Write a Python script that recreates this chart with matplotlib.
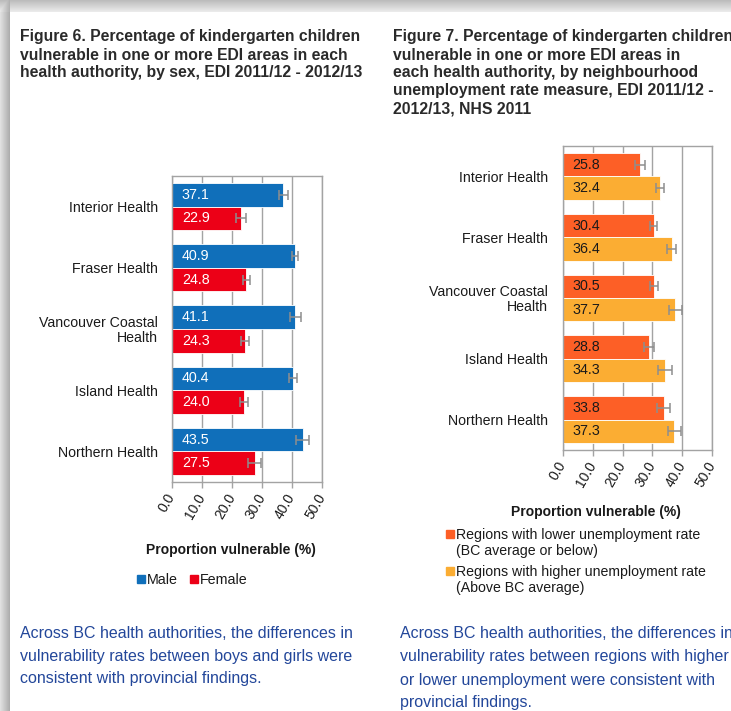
import numpy as np
import matplotlib
matplotlib.use("Agg")
import matplotlib.pyplot as plt
from matplotlib.patches import Rectangle

# ---- data -------------------------------------------------------------
authorities = ["Interior Health", "Fraser Health", "Vancouver Coastal\nHealth",
               "Island Health", "Northern Health"]

male = [37.1, 40.9, 41.1, 40.4, 43.5]
male_err = [1.5, 1.0, 1.8, 1.4, 2.2]
female = [22.9, 24.8, 24.3, 24.0, 27.5]
female_err = [1.6, 1.1, 1.4, 1.3, 2.1]

lower_unemp = [25.8, 30.4, 30.5, 28.8, 33.8]
lower_err = [1.7, 1.2, 1.4, 1.6, 2.2]
higher_unemp = [32.4, 36.4, 37.7, 34.3, 37.3]
higher_err = [1.3, 1.4, 2.2, 2.3, 2.1]

xticks = [0, 10, 20, 30, 40, 50]
xtick_labels = ["0.0", "10.0", "20.0", "30.0", "40.0", "50.0"]

sex_labels = ["Male", "Female"]
unemp_labels = ["Regions with lower unemployment rate\n(BC average or below)",
                "Regions with higher unemployment rate\n(Above BC average)"]

title6 = ["Figure 6. Percentage of kindergarten children",
          "vulnerable in one or more EDI areas in each",
          "health authority, by sex, EDI 2011/12 - 2012/13"]
title7 = ["Figure 7. Percentage of kindergarten children",
          "vulnerable in one or more EDI areas in",
          "each health authority, by neighbourhood",
          "unemployment rate measure, EDI 2011/12 -",
          "2012/13, NHS 2011"]
caption6 = ["Across BC health authorities, the differences in",
            "vulnerability rates between boys and girls were",
            "consistent with provincial findings."]
caption7 = ["Across BC health authorities, the differences in",
            "vulnerability rates between regions with higher",
            "or lower unemployment were consistent with",
            "provincial findings."]

# ---- style ------------------------------------------------------------
plt.rcParams["font.family"] = ["Liberation Sans", "DejaVu Sans"]
BLUE, RED = "#106fba", "#ec0017"
ORANGE, AMBER = "#fd5f26", "#fbad33"
GRID = "#a3a3a3"
ERR = "#8e8e8e"
TITLE_C = "#2a2a2a"
LABEL_C = "#1a1a1a"
CAPTION_C = "#23479a"

W, H = 731, 711
fig = plt.figure(figsize=(W / 100, H / 100), dpi=100)


def fx(px):
    return px / W


def fy(py):
    return 1 - py / H


# page background with a soft drop shadow along the top and left edges
bg = fig.add_axes([0, 0, 1, 1], zorder=-10)
bg.axis("off")
img = np.ones((H, W, 3))
top_h, left_w = 12, 10
for r in range(top_h):
    img[r, :, :] = 0.74 + 0.18 * r / (top_h - 1)
for c in range(left_w):
    v = 0.88 - 0.20 * c / (left_w - 1)
    img[top_h:, c, :] = v
    img[:top_h, c, :] = np.minimum(img[:top_h, c, :], v + 0.02)
bg.imshow(img, extent=[0, 1, 0, 1], aspect="auto", interpolation="bilinear")
bg.set_xlim(0, 1)
bg.set_ylim(0, 1)


def draw_panel(rect, s1, e1, c1, s2, e2, c2, value_color, label_pad):
    ax = fig.add_axes(rect)
    n = len(authorities)
    pos = np.arange(n)
    h = 0.384
    ax.barh(pos - h / 2, s1, height=h, color=c1, edgecolor="white",
            linewidth=0.6, zorder=2)
    ax.barh(pos + h / 2, s2, height=h, color=c2, edgecolor="white",
            linewidth=0.6, zorder=2)
    ax.errorbar(s1, pos - h / 2, xerr=e1, fmt="none", ecolor=ERR,
                elinewidth=1.1, capsize=3.4, capthick=1.1, zorder=3)
    ax.errorbar(s2, pos + h / 2, xerr=e2, fmt="none", ecolor=ERR,
                elinewidth=1.1, capsize=3.4, capthick=1.1, zorder=3)
    for i in range(n):
        ax.text(3.3, pos[i] - h / 2, f"{s1[i]:.1f}", color=value_color,
                fontsize=10.3, va="center", ha="left", zorder=4)
        ax.text(3.3, pos[i] + h / 2, f"{s2[i]:.1f}", color=value_color,
                fontsize=10.3, va="center", ha="left", zorder=4)
    ax.set_xlim(0, 50)
    ax.set_ylim(n - 0.5, -0.5)
    ax.set_xticks(xticks)
    ax.set_xticklabels(xtick_labels, rotation=60, ha="right", va="center",
                       rotation_mode="anchor", fontsize=10, color=LABEL_C)
    ax.set_yticks(pos)
    ax.set_yticklabels(authorities, fontsize=10.2, color=LABEL_C,
                       multialignment="right", linespacing=1.05)
    ax.tick_params(axis="y", length=0, pad=label_pad)
    ax.tick_params(axis="x", length=4, width=1, color=GRID, pad=5)
    ax.xaxis.grid(True, color=GRID, linewidth=1.0)
    ax.set_axisbelow(True)
    for sp in ax.spines.values():
        sp.set_color(GRID)
        sp.set_linewidth(1.0)
    return ax


# Figure 6 panel: by sex
draw_panel([fx(172), fy(482), fx(322) - fx(172), fy(176) - fy(482)],
           male, male_err, BLUE, female, female_err, RED, "white", 10)
# Figure 7 panel: by neighbourhood unemployment
draw_panel([fx(562.7), fy(450), fx(712.3) - fx(562.7), fy(146) - fy(450)],
           lower_unemp, lower_err, ORANGE, higher_unemp, higher_err, AMBER,
           "#1a1a1a", 10.4)

# titles
for i, line in enumerate(title6):
    fig.text(fx(20), fy(37 + 18 * i), line, fontsize=11.35, fontweight="bold",
             color=TITLE_C, va="center", ha="left")
for i, line in enumerate(title7):
    fig.text(fx(393), fy(37 + 18 * i), line, fontsize=11.35, fontweight="bold",
             color=TITLE_C, va="center", ha="left")

# axis titles
fig.text(fx(231), fy(550), "Proportion vulnerable (%)", fontsize=10,
         fontweight="bold", color=LABEL_C, ha="center", va="center")
fig.text(fx(596), fy(512), "Proportion vulnerable (%)", fontsize=10,
         fontweight="bold", color=LABEL_C, ha="center", va="center")

# legend: sex
for x0, col, lab in [(137, BLUE, sex_labels[0]), (190, RED, sex_labels[1])]:
    fig.add_artist(Rectangle((fx(x0), fy(583)), fx(8), fy(575) - fy(583),
                             transform=fig.transFigure, color=col))
    fig.text(fx(x0 + 9.5), fy(579.5), lab, fontsize=10.3, color=LABEL_C,
             ha="left", va="center")

# legend: unemployment
for y0, col, lab in [(529.5, ORANGE, unemp_labels[0]),
                     (567, AMBER, unemp_labels[1])]:
    fig.add_artist(Rectangle((fx(446), fy(y0 + 8)), fx(8), fy(y0) - fy(y0 + 8),
                             transform=fig.transFigure, color=col))
    for k, part in enumerate(lab.split("\n")):
        fig.text(fx(456.5), fy(y0 + 5 + 16 * k), part, fontsize=10.2,
                 color=LABEL_C, ha="left", va="center")

# captions
for i, line in enumerate(caption6):
    fig.text(fx(20), fy(633 + 23 * i), line, fontsize=11.5, color=CAPTION_C,
             ha="left", va="center")
for i, line in enumerate(caption7):
    fig.text(fx(400), fy(634 + 23 * i), line, fontsize=11.5, color=CAPTION_C,
             ha="left", va="center")

fig.savefig("out.png", dpi=100)
